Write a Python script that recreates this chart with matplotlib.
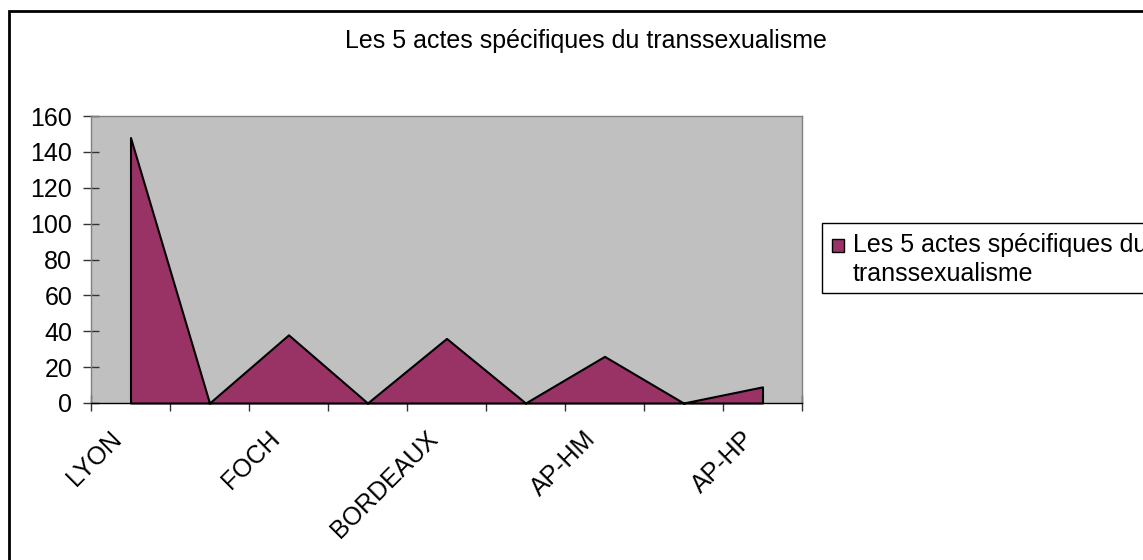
import matplotlib
matplotlib.use('Agg')
import matplotlib.pyplot as plt
import matplotlib.transforms as mtransforms
from matplotlib.patches import Rectangle
import numpy as np

plt.rcParams['font.family'] = ['Liberation Sans', 'DejaVu Sans']

# data
categories = ['LYON', '', 'FOCH', '', 'BORDEAUX', '', 'AP-HM', '', 'AP-HP']
values = [148, 0, 38, 0, 36, 0, 26, 0, 9]
yticks = [0, 20, 40, 60, 80, 100, 120, 140, 160]
title = 'Les 5 actes spécifiques du transsexualisme'
series_label = 'Les 5 actes spécifiques du\ntranssexualisme'
fill_color = '#993366'
FS = 18

W, H = 1143, 560
fig = plt.figure(figsize=(W / 100, H / 100), dpi=100)
ax = fig.add_axes([91 / W, 1 - 403 / H, (802 - 91) / W, (403 - 116) / H])
ax.set_facecolor('#C0C0C0')

x = np.arange(len(categories))
ax.fill_between(x, values, 0, facecolor=fill_color, edgecolor='black',
                linewidth=1.5, clip_on=False, zorder=3)

ax.set_xlim(-0.5, len(categories) - 0.5)
ax.set_ylim(0, 160)
ax.set_yticks(yticks)
ax.tick_params(axis='y', labelsize=FS, direction='inout', length=11,
               width=1, color='#333333', pad=8)

# boundary ticks (major) and category labels (minor)
ax.set_xticks(np.arange(-0.5, len(categories), 1.0))
ax.set_xticklabels([])
ax.set_xticks(x, minor=True)
ax.set_xticklabels(categories, minor=True, rotation=45, ha='right',
                   va='top', rotation_mode='anchor', fontsize=FS)
ax.tick_params(axis='x', which='major', direction='inout', length=11,
               width=1, color='#333333')
ax.tick_params(axis='x', which='minor', length=0, pad=17)
offset = mtransforms.ScaledTranslation(-21 / 100, 0, fig.dpi_scale_trans)
for lbl in ax.get_xticklabels(minor=True):
    lbl.set_transform(lbl.get_transform() + offset)

for s in ax.spines.values():
    s.set_color('#808080')
    s.set_linewidth(1)
ax.spines['bottom'].set_color('black')

fig.text(586 / W, 1 - 41 / H, title, ha='center', va='center', fontsize=FS)

# legend box drawn by hand so the key sits on the first line like Excel does
fig.patches.append(Rectangle((822 / W, 1 - 293 / H), 0.5, 70 / H,
                             transform=fig.transFigure, facecolor='white',
                             edgecolor='black', linewidth=1))
fig.patches.append(Rectangle((832 / W, 1 - 252 / H), 12 / W, 13 / H,
                             transform=fig.transFigure, facecolor=fill_color,
                             edgecolor='black', linewidth=1))
for i, line in enumerate(series_label.split('\n')):
    fig.text(853 / W, 1 - (252 + 29 * i) / H, line, ha='left',
             va='baseline', fontsize=FS)

# outer chart frame (cut off on the right and bottom like the reference)
fig.patches.append(Rectangle((8.5 / W, -0.1), 1.2, 1 - 10.5 / H + 0.1,
                             transform=fig.transFigure, fill=False,
                             edgecolor='black', linewidth=2))

fig.savefig('out.png', dpi=100)
